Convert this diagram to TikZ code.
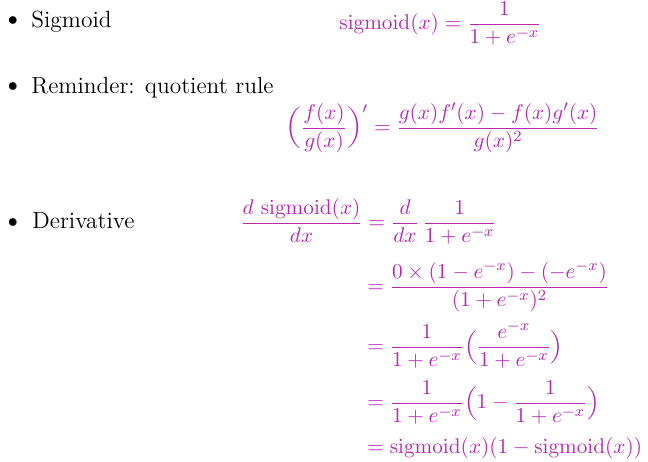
\documentclass[tikz,border=0pt]{standalone}
\usepackage{amsmath}
\usepackage{graphicx}
\usepackage{tikz}
\definecolor{formulapurple}{RGB}{180,40,180}
\newcommand{\eqshrink}[1]{\scalebox{0.97}{$\displaystyle #1$}}
% slightly flattened parentheses
\newcommand{\lpar}[2]{\mathopen{\vcenter{\hbox{\scalebox{1}[#2]{$#1($}}}}}
\newcommand{\rpar}[2]{\mathclose{\vcenter{\hbox{\scalebox{1}[#2]{$#1)$}}}}}
\tikzset{
  itemtext/.style={anchor=base west, inner sep=0pt, font=\fontsize{11.7}{14}\selectfont},
  itemdot/.style={anchor=base, inner sep=0pt, font=\fontsize{10}{12}\selectfont},
  formula/.style={anchor=base west, inner sep=0pt, text=formulapurple, font=\fontsize{10.95}{13}\selectfont}
}

\begin{document}
\begin{tikzpicture}[x=0.5pt,y=-0.5pt]
  \useasboundingbox (0,0) rectangle (648,461);
  % the three items
  \node[itemdot] (dot1) at (13,25.5) {$\bullet$};
  \node[itemtext] (sig) at (31,27) {Sigmoid};
  \node[itemdot] (dot2) at (13,91) {$\bullet$};
  \node[itemtext] (rem) at (31,93) {Reminder: quotient rule};
  \node[itemdot] (dot3) at (13,227) {$\bullet$};
  \node[itemtext] (der) at (32,228) {Derivative};
  % formulas
  \node[formula] (sigdef) at (339,29.4) {\eqshrink{\mathrm{sigmoid}(x) = \frac{1}{1+e^{-x}}}};
  \node[formula] (quot) at (285,133.4) {\eqshrink{\lpar{\bigg}{0.82}\frac{f(x)}{g(x)}\rpar{\bigg}{0.82}' = \frac{g(x)f'(x)-f(x)g'(x)}{g(x)^2}}};
  \node[formula] (row1) at (240,228.4) {\eqshrink{\frac{d\ \mathrm{sigmoid}(x)}{dx} = \frac{d}{dx}\,\frac{1}{1+e^{-x}}}};
  \node[formula] (row2) at (367,292.4) {\eqshrink{= \frac{0\times(1-e^{-x})-(-e^{-x})}{(1+e^{-x})^2}}};
  \node[formula] (row3) at (367,352.4) {\eqshrink{= \frac{1}{1+e^{-x}}\lpar{\Big}{0.87}\frac{e^{-x}}{1+e^{-x}}\rpar{\Big}{0.87}}};
  \node[formula] (row4) at (367,408.4) {\eqshrink{= \frac{1}{1+e^{-x}}\lpar{\Big}{0.87}1-\frac{1}{1+e^{-x}}\rpar{\Big}{0.87}}};
  \node[formula] (row5) at (367,453.4) {\eqshrink{= \mathrm{sigmoid}(x)(1-\mathrm{sigmoid}(x))}};
\end{tikzpicture}
\end{document}
